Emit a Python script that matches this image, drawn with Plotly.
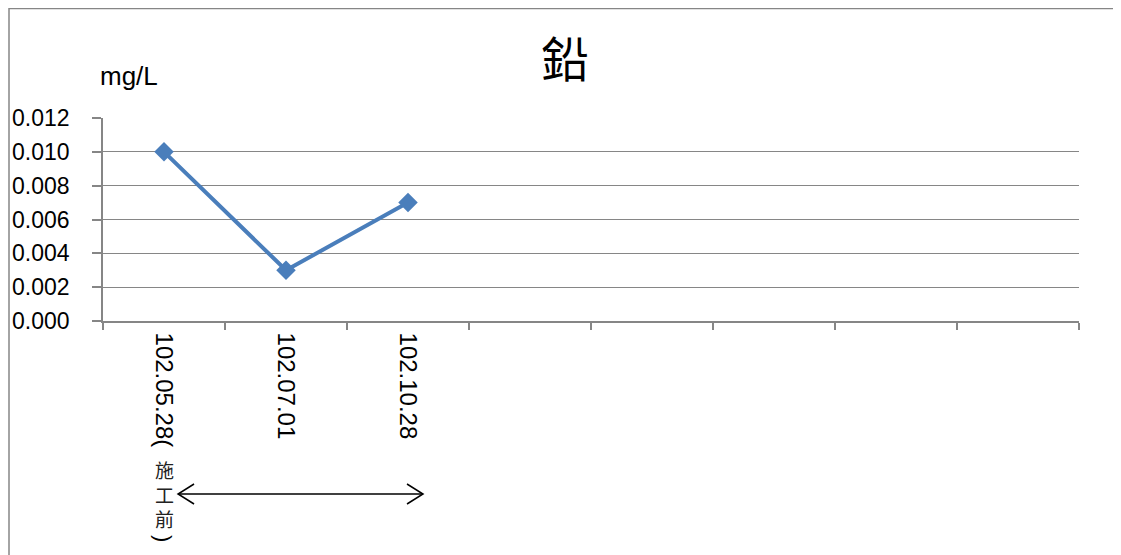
import plotly.graph_objects as go

# ---- data ----
dates = ["102.05.28", "102.07.01", "102.10.28"]
lead_mg_l = [0.010, 0.003, 0.007]
blank_slots = [" ", "  ", "   ", "    ", "     "]
first_label_suffix = "("
first_label_note = ["施", "工", "前"]
y_ticks = [0.000, 0.002, 0.004, 0.006, 0.008, 0.010, 0.012]
title_text = "鉛"
unit_text = "mg/L"

W, H = 1121, 555
OFF = 8  # page body margin
L, R, T, B = 103 - OFF, 1121 - 1079 + OFF, 118 - OFF, 555 - 321 + OFF
PW, PH = W - L - R, H - T - B

def px_x(x):
    # page pixel -> paper fraction
    return (x - OFF - L) / PW

def px_y(y):
    return (H - B - (y - OFF)) / PH

GRAY = "#868686"
BLUE = "#4A7EBB"
FONT = "Liberation Sans"

categories = dates + blank_slots
ticktext = [dates[0] + first_label_suffix] + dates[1:] + ["" for _ in blank_slots]

fig = go.Figure()
fig.add_trace(go.Scatter(
    x=dates, y=lead_mg_l, mode="lines+markers",
    line=dict(color=BLUE, width=4),
    marker=dict(symbol="diamond", size=15, color=BLUE),
    showlegend=False, hoverinfo="x+y",
))

fig.update_layout(
    width=W, height=H,
    margin=dict(l=L, r=R, t=T, b=B, pad=0, autoexpand=False),
    paper_bgcolor="white", plot_bgcolor="white",
    font=dict(family=FONT, color="black", size=23),
    xaxis=dict(
        type="category", categoryorder="array", categoryarray=categories,
        range=[-0.5, len(categories) - 0.5], automargin=False,
        tickmode="array", tickvals=categories, ticktext=ticktext,
        tickson="boundaries", ticks="outside", ticklen=7, tickcolor=GRAY, tickwidth=1.5,
        showline=True, linecolor=GRAY, linewidth=1.5, showgrid=False,
        tickangle=90, tickfont=dict(family=FONT, size=24, color="black"),
        ticklabelstandoff=5,
    ),
    yaxis=dict(
        range=[0, 0.012], tickmode="array", tickvals=y_ticks, automargin=False,
        ticktext=[f"{v:.3f}" for v in y_ticks],
        ticks="outside", ticklen=9, tickcolor=GRAY, tickwidth=1.5,
        showline=True, linecolor=GRAY, linewidth=1.5,
        showgrid=True, gridcolor=GRAY, gridwidth=1.2, zeroline=False,
        tickfont=dict(family=FONT, size=23, color="black"),
        ticklabelstandoff=18,
    ),
)

# title and unit
fig.add_annotation(text=title_text, xref="paper", yref="paper",
                   x=px_x(565), y=px_y(56), showarrow=False,
                   font=dict(family="Noto Sans CJK TC", size=48, color="black"),
                   xanchor="center", yanchor="middle")
fig.add_annotation(text=unit_text, xref="paper", yref="paper",
                   x=px_x(98), y=px_y(76), showarrow=False,
                   font=dict(family=FONT, size=26, color="black"),
                   xanchor="left", yanchor="middle")

# upright CJK part of first tick label, stacked vertically
fig.add_annotation(text="<br>".join(first_label_note), xref="x", yref="paper",
                   x=dates[0], y=px_y(494), showarrow=False,
                   font=dict(family="Noto Sans CJK TC", size=19, color="#222222"),
                   xanchor="center", yanchor="middle")
fig.add_annotation(text=")", xref="x", yref="paper",
                   x=dates[0], y=px_y(538), showarrow=False, textangle=90,
                   font=dict(family=FONT, size=22, color="black"),
                   xanchor="center", yanchor="middle")

# double-headed arrow below axis
ay = px_y(494)
ax0, ax1 = 0.115, 2.123
fig.add_shape(type="line", xref="x", yref="paper", x0=ax0, x1=ax1, y0=ay, y1=ay,
              line=dict(color="black", width=1.5))
fig.add_shape(type="path", xref="x", yref="paper", xsizemode="pixel", ysizemode="pixel",
              xanchor=ax0, yanchor=ay, path="M 16 10 L 0 0 L 16 -10",
              line=dict(color="black", width=1.5))
fig.add_shape(type="path", xref="x", yref="paper", xsizemode="pixel", ysizemode="pixel",
              xanchor=ax1, yanchor=ay, path="M -16 10 L 0 0 L -16 -10",
              line=dict(color="black", width=1.5))

# outer chart border (clipped at right/bottom)
fig.add_shape(type="rect", xref="paper", yref="paper",
              x0=px_x(9), x1=px_x(1140), y0=px_y(575), y1=px_y(8.5),
              line=dict(color=GRAY, width=1.5), layer="below")

fig.write_html("out.html")
